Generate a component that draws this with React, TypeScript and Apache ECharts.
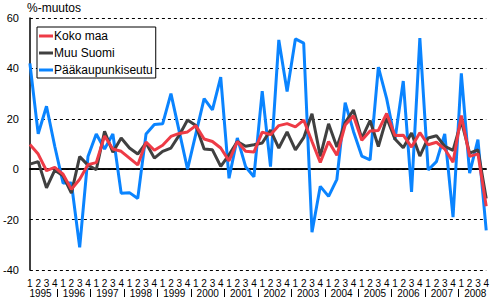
import React, { useEffect, useRef } from "react";
import * as echarts from "echarts";

const years = ["1995", "1996", "1997", "1998", "1999", "2000", "2001", "2002", "2003", "2004", "2005", "2006", "2007", "2008"];
const quarters = ["1", "2", "3", "4"];
const categories = years.flatMap((y) => quarters.map((q) => `${y} ${q}`));

const kokoMaa = [9.8, 6, -0.6, 0.7, -2, -8, -4, 1.8, 2.6, 13.2, 8, 7.1, 4.4, 1.7, 10.8, 7.5, 9.5, 13, 14.2, 14.8, 17.3, 12, 11, 8.4, 3.3, 11, 7.1, 6.8, 14.7, 13.7, 17.3, 18.1, 16.8, 19.5, 11, 2.7, 11, 5.5, 17.5, 21.2, 11.5, 15.2, 15.4, 22.1, 13.4, 13.5, 8.8, 14.5, 9.7, 10.7, 8, 2.8, 21.3, 5.1, 6.1, -14.7];
const muuSuomi = [2, 3, -7.4, -0.4, -2.6, -9.5, 5, 1.6, -0.2, 15, 6.7, 12.4, 8.4, 6, 10.4, 4.4, 7.1, 8.4, 13.5, 19.5, 17.3, 8, 7.7, 1.1, 5.7, 11, 9.1, 9.7, 10.4, 15.5, 8.4, 14.8, 7.7, 12.5, 22, 5.1, 18, 8.8, 18.5, 23.5, 12.2, 19.3, 9, 20.4, 12, 8.5, 14.4, 5.2, 12.4, 13.3, 9.1, 7.5, 19.1, 6.4, 7.7, -11.6];
const paakaupunkiseutu = [42, 14, 25, 9, -5.5, -5.5, -31, 5, 14, 8, 14, -9.5, -9.3, -11.6, 14, 17.7, 18, 30, 15, 0, 14, 28, 23.5, 36.5, -3.6, 12.4, 1, -3, 31, 1, 51.3, 30.8, 51.7, 50, -25, -6.8, -10.8, -4, 26.4, 15, 5.2, 3.7, 40.5, 28, 11.7, 35, -9, 52, -0.3, 3, 14, -19, 38, -1.6, 11.7, -24.3];

const seriesNames = ["Koko maa", "Muu Suomi", "Pääkaupunkiseutu"];
const seriesColors = ["#ee3b46", "#404040", "#0a84ff"];
const yTicks = { min: -40, max: 60, interval: 20 };

const FONT = "'Liberation Sans', Arial, sans-serif";

export default function App() {
  const ref = useRef<HTMLDivElement>(null);
  useEffect(() => {
    if (!ref.current) return;
    const chart = echarts.init(ref.current, null, { renderer: "svg" });
    const W = 492;
    const gridLeft = 28;
    const gridRight = 3;
    const plotW = W - gridLeft - gridRight;
    const step = plotW / (categories.length - 1);
    chart.setOption({
      animation: false,
      backgroundColor: "#fff",
      textStyle: { fontFamily: FONT },
      title: {
        text: "%-muutos",
        left: 27,
        top: 2,
        padding: 0,
        textStyle: { fontSize: 12, fontWeight: "normal", color: "#000", fontFamily: FONT },
      },
      legend: {
        data: seriesNames,
        orient: "vertical",
        left: 37,
        top: 27,
        padding: [2, 3, 1, 2],
        itemGap: 3,
        itemWidth: 14,
        itemHeight: 3,
        icon: "rect",
        borderColor: "#000",
        borderWidth: 1,
        backgroundColor: "#fff",
        textStyle: { fontSize: 12, color: "#000", fontFamily: FONT, lineHeight: 14, padding: [0, 0, 0, -4] },
      },
      grid: [
        { left: gridLeft, right: gridRight, top: 18, bottom: 29 },
        { left: gridLeft - step / 2, width: step * categories.length, top: 200, bottom: 10 },
      ],
      xAxis: [
        {
          type: "category",
          gridIndex: 0,
          data: categories,
          boundaryGap: false,
          axisLine: { show: true, lineStyle: { color: "#000", width: 1.5 } },
          axisTick: { show: false },
          axisLabel: {
            interval: 0,
            fontSize: 10,
            color: "#000",
            margin: 8,
            fontFamily: FONT,
            formatter: (v: string) => v.split(" ")[1],
          },
          splitLine: { show: false },
        },
        {
          type: "category",
          gridIndex: 1,
          data: years,
          boundaryGap: true,
          axisLine: { show: false },
          axisTick: {
            show: true,
            length: 8,
            interval: (idx: number) => idx !== 0,
            lineStyle: { color: "#000", width: 1 },
          },
          axisLabel: {
            interval: 0,
            fontSize: 10,
            color: "#000",
            margin: 4,
            verticalAlign: "middle",
            fontFamily: FONT,
          },
        },
      ],
      yAxis: [
        {
          type: "value",
          gridIndex: 0,
          min: yTicks.min,
          max: yTicks.max,
          interval: yTicks.interval,
          axisLine: { show: true, lineStyle: { color: "#000", width: 1.5 } },
          axisTick: { show: false },
          axisLabel: { fontSize: 11, color: "#000", margin: 11, fontFamily: FONT },
          splitLine: { show: true, lineStyle: { color: "#000", type: [3, 3], width: 1 } },
        },
        { type: "value", gridIndex: 1, show: false },
      ],
      series: [
        {
          name: seriesNames[2],
          type: "line",
          data: paakaupunkiseutu,
          color: seriesColors[2],
          showSymbol: false,
          symbol: "none",
          lineStyle: { width: 3, color: seriesColors[2] },
          z: 2,
          markLine: {
            silent: true,
            symbol: "none",
            label: { show: false },
            lineStyle: { color: "#000", type: "solid", width: 1.5 },
            data: [{ yAxis: 0 }],
            z: 1,
          },
        },
        {
          name: seriesNames[1],
          type: "line",
          data: muuSuomi,
          color: seriesColors[1],
          showSymbol: false,
          symbol: "none",
          lineStyle: { width: 3, color: seriesColors[1] },
          z: 3,
        },
        {
          name: seriesNames[0],
          type: "line",
          data: kokoMaa,
          color: seriesColors[0],
          showSymbol: false,
          symbol: "none",
          lineStyle: { width: 3, color: seriesColors[0] },
          z: 4,
        },
      ],
    });
    return () => chart.dispose();
  }, []);
  return <div ref={ref} style={{ position: "fixed", left: 0, top: 0, width: 492, height: 299 }} />;
}
